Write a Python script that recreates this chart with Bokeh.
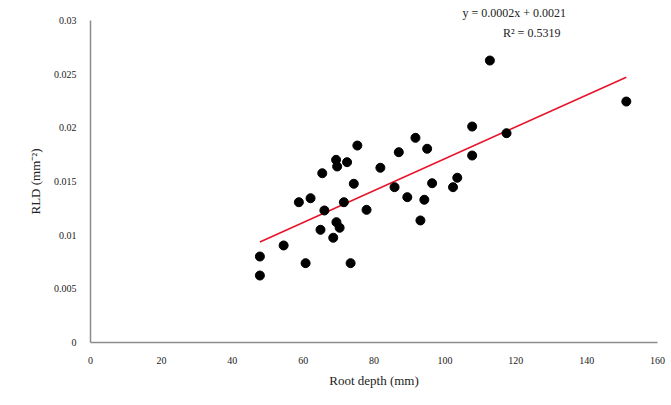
import numpy as np
from bokeh.plotting import figure
from bokeh.models import Label, Range1d, FixedTicker, Title
from bokeh.embed import file_html
from bokeh.resources import INLINE

root_depth = [75.3, 69.3, 69.6, 72.4, 65.4, 74.3, 58.8, 62.1, 71.5, 66.0,
              77.9, 69.4, 70.3, 64.9, 68.5, 54.5, 47.8, 60.7, 73.4, 47.8,
              112.7, 107.7, 117.4, 91.7, 95.0, 87.0, 107.7, 81.8, 85.8, 96.4,
              103.5, 102.3, 89.4, 94.2, 93.1, 151.2]
rld = [0.01835, 0.01702, 0.0164, 0.0168, 0.01577, 0.01479, 0.01307, 0.01344, 0.01307, 0.0123,
       0.01236, 0.01121, 0.01069, 0.0105, 0.00976, 0.00904, 0.00801, 0.00739, 0.00739, 0.00624,
       0.02627, 0.02012, 0.0195, 0.01907, 0.01805, 0.01773, 0.01742, 0.01628, 0.01447, 0.01484,
       0.01535, 0.01447, 0.01354, 0.0133, 0.01137, 0.02245]
x_ticks = [0, 20, 40, 60, 80, 100, 120, 140, 160]
y_ticks = [0, 0.005, 0.01, 0.015, 0.02, 0.025, 0.03]
y_tick_labels = ["0", "0.005", "0.01", "0.015", "0.02", "0.025", "0.03"]
equation_text = "y = 0.0002x + 0.0021"
r2_text = "R\u00b2 = 0.5319"

FONT = "Liberation Serif"

p = figure(width=671, height=405, output_backend="svg", toolbar_location=None,
           x_range=Range1d(0, 160), y_range=Range1d(0, 0.03),
           min_border_left=90, min_border_right=14, min_border_top=20, min_border_bottom=63)
p.outline_line_color = None
p.grid.visible = False
p.background_fill_color = "white"

for ax in (p.xaxis[0], p.yaxis[0]):
    ax.axis_line_color = "#8c8c8c"
    ax.axis_line_width = 1.5
    ax.major_tick_line_color = None
    ax.minor_tick_line_color = None
    ax.major_label_text_font = FONT
    ax.major_label_text_font_size = "10px"
    ax.major_label_text_color = "#222222"
    ax.axis_label_text_font = FONT
    ax.axis_label_text_font_size = "13px"
    ax.axis_label_text_font_style = "normal"
    ax.axis_label_text_color = "#222222"

p.xaxis.ticker = FixedTicker(ticks=x_ticks)
p.yaxis.ticker = FixedTicker(ticks=y_ticks)
p.yaxis.major_label_overrides = {t: l for t, l in zip(y_ticks, y_tick_labels)}
p.xaxis.major_label_standoff = 8
p.yaxis.major_label_standoff = 8
p.xaxis.axis_label = "Root depth (mm)"
p.yaxis.axis_label = "RLD (mm\u207b\u00b2)"
p.xaxis.axis_label_standoff = 6
p.yaxis.axis_label_standoff = 8

slope, intercept = np.polyfit(root_depth, rld, 1)
xs = np.array([min(root_depth), max(root_depth)])
p.line(xs, slope * xs + intercept, line_color="#e8132b", line_width=1.6)

p.scatter(root_depth, rld, size=9, color="black")

eq_title = Title(text=equation_text, align="left", offset=372, standoff=1,
                 text_font=FONT, text_font_size="12px", text_font_style="normal",
                 text_color="#222222")
p.add_layout(eq_title, "above")
p.add_layout(Label(x=124.5, y=0.0288, text=r2_text, text_font=FONT,
                   text_font_size="12px", text_align="center", text_baseline="middle",
                   text_color="#222222"))

open("out.html", "w").write(file_html(p, INLINE))
